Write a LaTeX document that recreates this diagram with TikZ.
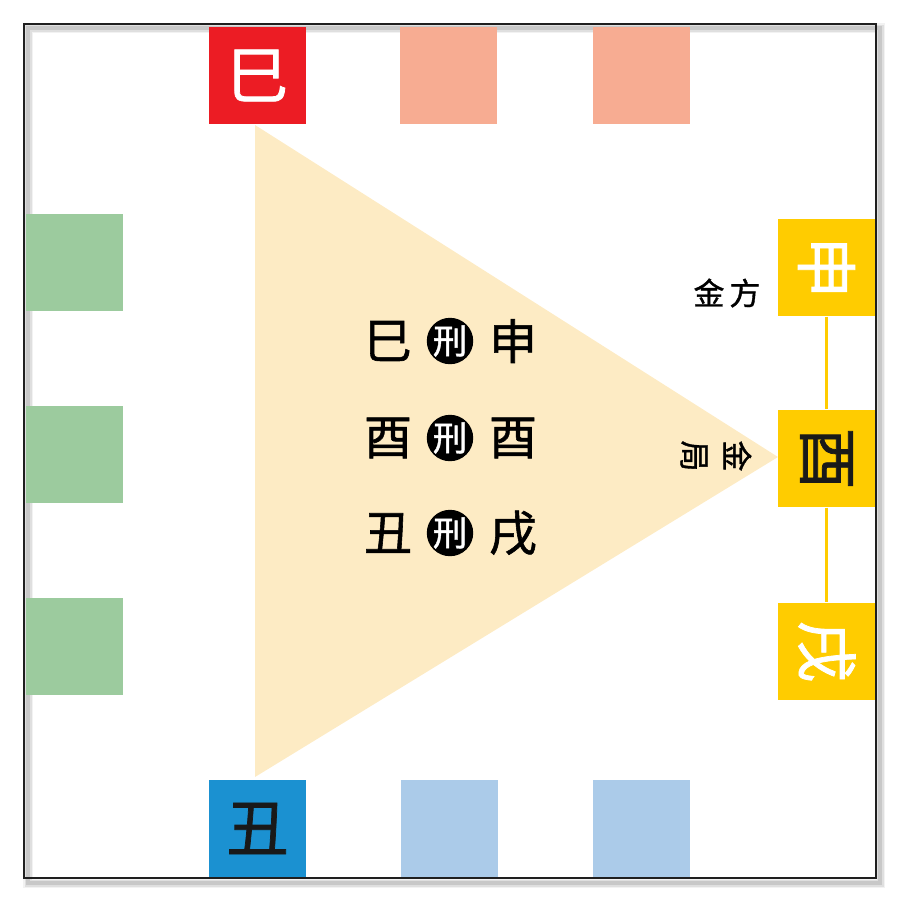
\documentclass[tikz,border=0pt]{standalone}
\usepackage{fontspec}
\setmainfont{Noto Sans CJK SC}
\newfontfamily\heiti[FakeBold=1.2]{Noto Sans CJK SC}
\usepackage{tikz}
\usetikzlibrary{positioning}

\definecolor{siRed}{HTML}{EC1C24}
\definecolor{huoPink}{HTML}{F7AC92}
\definecolor{muGreen}{HTML}{9CCB9E}
\definecolor{jinGold}{HTML}{FFCC00}
\definecolor{shuiBlue}{HTML}{1B91D1}
\definecolor{paleBlue}{HTML}{ABCBE9}
\definecolor{triWheat}{HTML}{FDEBC4}

\tikzset{
  cell/.style={minimum width=9.7mm, minimum height=9.7mm, inner sep=0pt,
    font=\heiti\fontsize{17.6}{17.6}\selectfont},
  zhi/.style={inner sep=0pt, font=\heiti\fontsize{13.6}{13.6}\selectfont},
  xing/.style={circle, fill=black, text=white, minimum size=4.6mm, inner sep=0pt,
    font=\heiti\fontsize{9.8}{9.8}\selectfont},
  tag/.style={inner sep=0pt, font=\heiti\fontsize{8.8}{12}\selectfont},
  link/.style={jinGold, line width=0.25mm}
}

\begin{document}
\begin{tikzpicture}[x=0.1mm,y=-0.1mm]
        \useasboundingbox (0,0) rectangle (902,902);
        % frame with shadow
        \draw[black, opacity=0.05, line width=1.0mm] (28,28) rectangle (880,883);
        \draw[black, opacity=0.08, line width=0.7mm] (28,28) rectangle (880,883);
        \draw[black, opacity=0.10, line width=0.4mm] (28,28) rectangle (880,883);
        \draw[black!88, line width=0.2mm] (24,24) rectangle (876,878);

        % triangle
        \fill[triWheat] (255,125) -- (255,777) -- (778,457) -- cycle;

        % top row
        \node[cell, fill=siRed, text=white] (si) at (257.5,75.5) {巳};
        \node[cell, fill=huoPink] (wu) at (448.5,75.5) {};
        \node[cell, fill=huoPink] (wei) at (641,75.5) {};

        % left column
        \node[cell, fill=muGreen] (yin) at (74.5,262) {};
        \node[cell, fill=muGreen] (mao) at (74.5,454.5) {};
        \node[cell, fill=muGreen] (chen) at (74.5,646.5) {};

        % right column
        \node[cell, fill=jinGold, text=white] (shen) at (826.5,267.5) {\rotatebox{-90}{申}};
        \node[cell, fill=jinGold, text=black!90] (you) at (826.5,458.5) {\rotatebox{-90}{酉}};
        \node[cell, fill=jinGold, text=white] (xu) at (826.5,651.5) {\rotatebox{-90}{戌}};
        \draw[link] (shen) -- (you);
        \draw[link] (you) -- (xu);

        % bottom row
        \node[cell, fill=shuiBlue, text=black!90] (chou) at (257.5,828.5) {丑};
        \node[cell, fill=paleBlue] (zi) at (449.5,828.5) {};
        \node[cell, fill=paleBlue] (hai) at (641,828.5) {};

        % labels
        \node[tag] (jinfang) at (727,293) {金\hspace{0.5mm}方};
        \node[tag, rotate=-90, align=center] (jinju) at (716,456) {金\\局};

        % xing pairs
        \node[zhi] (a1) at (388,341) {巳};
        \node[xing] (x1) at (450,341) {刑};
        \node[zhi] (b1) at (513,341) {申};

        \node[zhi] (a2) at (388,438) {酉};
        \node[xing] (x2) at (450,438) {刑};
        \node[zhi] (b2) at (513,438) {酉};

        \node[zhi] (a3) at (388,533) {丑};
        \node[xing] (x3) at (450,533) {刑};
        \node[zhi] (b3) at (513,533) {戌};
\end{tikzpicture}
\end{document}
